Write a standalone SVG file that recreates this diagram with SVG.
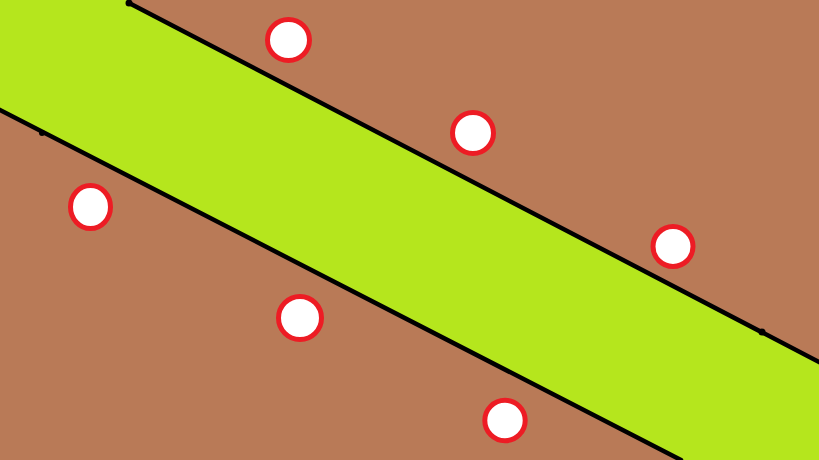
<svg xmlns="http://www.w3.org/2000/svg" width="819" height="460" viewBox="0 0 819 460">
<style>
.c{fill:#FFFFFF;stroke:#ED1C24;stroke-width:5}
.l{stroke:#000;stroke-width:4.5;fill:none;stroke-linecap:round}
</style>
<rect x="0" y="0" width="819" height="460" fill="#B97A57"/>
<polygon points="0,0 127,0 129,3 819,362 819,460 681,460 0,110" fill="#B5E61D"/>
<g id="connectors">
<line class="l" x1="129" y1="3" x2="821" y2="363"/>
<line class="l" x1="-2" y1="109" x2="681" y2="460"/>
<circle cx="129" cy="3" r="3.5" fill="#000"/>
<circle cx="762" cy="332" r="3.5" fill="#000"/>
<circle cx="42" cy="133" r="3" fill="#000"/>
</g>
<g id="n1"><ellipse class="c" cx="288.5" cy="40" rx="21" ry="20.5"/></g>
<g id="n2"><ellipse class="c" cx="473" cy="133" rx="20.5" ry="20.5"/></g>
<g id="n3"><ellipse class="c" cx="673" cy="246.5" rx="20" ry="20"/></g>
<g id="n4"><ellipse class="c" cx="90.5" cy="207" rx="20" ry="21.5"/></g>
<g id="n5"><ellipse class="c" cx="300" cy="318" rx="21.5" ry="21.5"/></g>
<g id="n6"><ellipse class="c" cx="505" cy="420.5" rx="20.2" ry="20.3"/></g>
</svg>
